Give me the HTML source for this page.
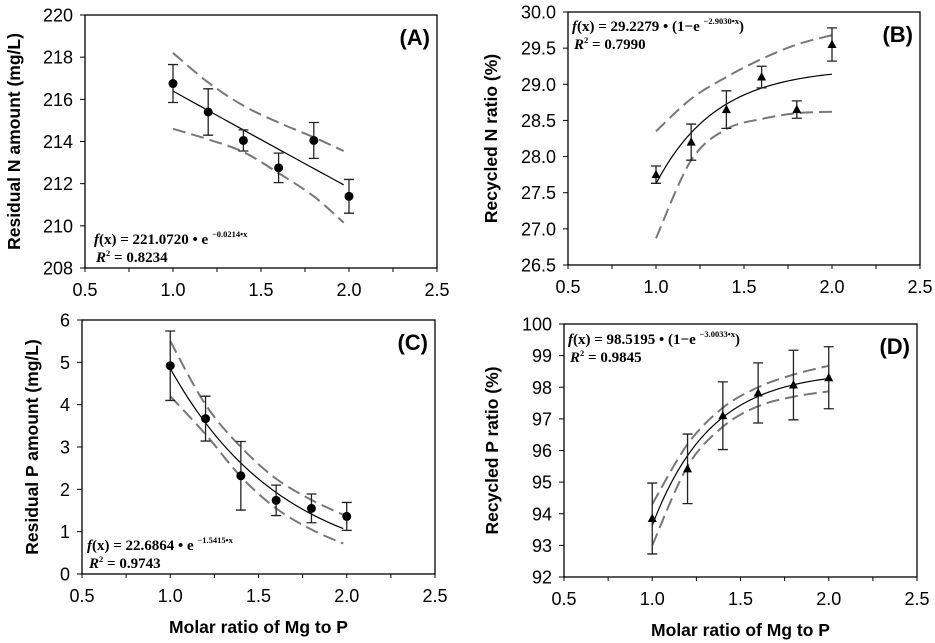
<!DOCTYPE html>
<html><head><meta charset="utf-8"><style>
html,body{margin:0;padding:0;background:#fff;}
svg{display:block;font-family:"Liberation Sans",Arial,sans-serif;}
.eq{font-family:"Liberation Serif",serif;font-weight:bold;}
</style></head><body>
<svg id="fig" width="935" height="643" viewBox="0 0 935 643" xmlns="http://www.w3.org/2000/svg"></svg>
<script>
// shared x data
const xVals = [1.0, 1.2, 1.4, 1.6, 1.8, 2.0];
const xTicks = [0.5, 1.0, 1.5, 2.0, 2.5];
const xTickLabels = ["0.5", "1.0", "1.5", "2.0", "2.5"];

// Panel A
const aMeans = [216.75, 215.4, 214.05, 212.75, 214.05, 211.4];
const aErr = [0.9, 1.1, 0.5, 0.7, 0.85, 0.8];
const aUpper = [218.2, 216.8, 215.7, 214.9, 214.2, 213.55];
const aLower = [214.6, 214.1, 213.5, 212.5, 211.4, 210.15];
const aTicks = [208, 210, 212, 214, 216, 218, 220];
// Panel B
const bMeans = [27.75, 28.2, 28.65, 29.1, 28.65, 29.55];
const bErr = [0.12, 0.25, 0.26, 0.15, 0.12, 0.23];
const bUpper = [28.35, 28.8, 29.1, 29.35, 29.55, 29.68];
const bLower = [26.87, 27.95, 28.38, 28.52, 28.6, 28.62];
const bTicks = [26.5, 27.0, 27.5, 28.0, 28.5, 29.0, 29.5, 30.0];
// Panel C
const cMeans = [4.92, 3.67, 2.32, 1.74, 1.55, 1.36];
const cErr = [0.82, 0.53, 0.81, 0.36, 0.34, 0.33];
const cUpper = [5.5, 4.0, 3.0, 2.25, 1.75, 1.4];
const cLower = [4.2, 3.3, 2.3, 1.55, 1.05, 0.72];
const cTicks = [0, 1, 2, 3, 4, 5, 6];
// Panel D
const dMeans = [93.85, 95.42, 97.1, 97.82, 98.07, 98.3];
const dErr = [1.12, 1.1, 1.07, 0.95, 1.1, 0.98];
const dUpper = [94.3, 96.2, 97.35, 98.0, 98.4, 98.68];
const dLower = [93.0, 95.5, 96.75, 97.4, 97.7, 97.87];
const dTicks = [92, 93, 94, 95, 96, 97, 98, 99, 100];

const NS = "http://www.w3.org/2000/svg";
const svg = document.getElementById("fig");
function mk(tag, attrs, parent) {
  const e = document.createElementNS(NS, tag);
  for (const k in attrs) e.setAttribute(k, attrs[k]);
  (parent || svg).appendChild(e);
  return e;
}
function smoothPath(pts) {
  let d = "M" + pts[0][0] + "," + pts[0][1];
  for (let i = 0; i < pts.length - 1; i++) {
    const p0 = pts[Math.max(0, i - 1)], p1 = pts[i], p2 = pts[i + 1], p3 = pts[Math.min(pts.length - 1, i + 2)];
    const c1x = p1[0] + (p2[0] - p0[0]) / 6, c1y = p1[1] + (p2[1] - p0[1]) / 6;
    const c2x = p2[0] - (p3[0] - p1[0]) / 6, c2y = p2[1] - (p3[1] - p1[1]) / 6;
    d += " C" + c1x + "," + c1y + " " + c2x + "," + c2y + " " + p2[0] + "," + p2[1];
  }
  return d;
}

function panel(cfg) {
  const g = mk("g", {});
  
  
  const {x0, x1, y0, y1, ymin, ymax} = cfg;
  const sx = v => x0 + (v - 0.5) / 2 * (x1 - x0);
  const sy = v => y1 - (v - ymin) / (ymax - ymin) * (y1 - y0);
  const fr = mk("rect", {x: x0, y: y0, width: x1 - x0, height: y1 - y0, fill: "none", stroke: "#000", "stroke-width": 1.3}, g);
  
  
  for (let v = 0.5; v <= 2.5001; v += 0.25) {
    mk("line", {x1: sx(v), x2: sx(v), y1: y1, y2: y1 + 4, stroke: "#000", "stroke-width": 1}, g);
  }
  xTicks.forEach((v, i) => {
    const t = mk("text", {x: sx(v), y: y1 + 28, "text-anchor": "middle", "font-size": 18}, g);
    t.textContent = xTickLabels[i];
    
    
  });
  cfg.ticks.forEach(v => {
    mk("line", {x1: x0 - 5, x2: x0, y1: sy(v), y2: sy(v), stroke: "#000", "stroke-width": 1}, g);
    const t = mk("text", {x: x0 - 12, y: sy(v) + 6.5, "text-anchor": "end", "font-size": 18}, g);
    t.textContent = v.toFixed(cfg.dec);
    
    
  });
  const yt = mk("text", {x: 0, y: 0, "text-anchor": "middle", "font-size": 17.5, "font-weight": "bold", transform: "translate(" + cfg.ytx + "," + ((y0 + y1) / 2) + ") rotate(-90)"}, g);
  yt.textContent = cfg.ytitle;
  
  
  if (cfg.xtitle) {
    const xt = mk("text", {x: (x0 + x1) / 2, y: y1 + 59, "text-anchor": "middle", "font-size": 17.5, "font-weight": "bold"}, g);
    xt.textContent = "Molar ratio of Mg to P";
    
    
  }
  const pl = mk("text", {x: x1 - 7, y: y0 + 30, "text-anchor": "end", "font-size": 22, "font-weight": "bold"}, g);
  pl.textContent = cfg.label;
  
  
  const xEnd = cfg.bandEnd;
  [cfg.upper, cfg.lower].forEach((arr, k) => {
    const pts = arr.map((v, i) => [sx(i === arr.length - 1 ? xEnd : xVals[i]), sy(v)]);
    const p = mk("path", {d: smoothPath(pts), fill: "none", stroke: "#777", "stroke-width": 2, "stroke-dasharray": "13,6"}, g);
    
    
  });
  const fp = [];
  for (let i = 0; i <= 50; i++) { const xv = 1 + i / 50 * (xEnd - 1); fp.push((i ? "L" : "M") + sx(xv) + "," + sy(cfg.fit(xv))); }
  const fl = mk("path", {d: fp.join(" "), fill: "none", stroke: "#000", "stroke-width": 1.2}, g);
  
  
  xVals.forEach((xv, i) => {
    const cx = sx(xv), m = cfg.means[i], e = cfg.err[i];
    const eb = mk("path", {d: "M" + cx + "," + sy(m + e) + "V" + sy(m - e) + "M" + (cx - 5) + "," + sy(m + e) + "H" + (cx + 5) + "M" + (cx - 5) + "," + sy(m - e) + "H" + (cx + 5), stroke: "#222", "stroke-width": 1.3, fill: "none"}, g);
    
    
    let mkp;
    if (cfg.marker === "circle") mkp = mk("circle", {cx: cx, cy: sy(m), r: 4.5, fill: "#000"}, g);
    else { const cy = sy(m); mkp = mk("path", {d: "M" + cx + "," + (cy - 5) + "L" + (cx + 4.5) + "," + (cy + 3.5) + "L" + (cx - 4.5) + "," + (cy + 3.5) + "Z", fill: "#000"}, g); }
    
    
  });
  const eq = mk("text", {x: cfg.eqx, y: cfg.eqy, "font-size": 15, class: "eq"}, g);
  eq.innerHTML = '<tspan font-style="italic">f</tspan>(x) = ' + cfg.eqA + ' &#8226; ' + cfg.eqB + '<tspan font-size="8.5" dy="-7">' + cfg.eqExp + '</tspan>' + (cfg.paren ? '<tspan dy="7">)</tspan>' : '');
  
  
  const r2 = mk("text", {x: cfg.eqx + 2, y: cfg.eqy + 18, "font-size": 15, class: "eq"}, g);
  r2.innerHTML = '<tspan font-style="italic">R</tspan><tspan font-size="8.5" dy="-6">2</tspan><tspan dy="6"> = ' + cfg.r2 + '</tspan>';
  
  
}

panel({name: "panel-a", x0: 85, x1: 437, y0: 15, y1: 268, ymin: 208, ymax: 220, ticks: aTicks, dec: 0,
  ytitle: "Residual N amount (mg/L)", ytx: 20, label: "(A)", means: aMeans, err: aErr, upper: aUpper, lower: aLower,
  bandEnd: 1.97, fit: x => 221.072 * Math.exp(-0.0214 * x), marker: "circle", eqx: 94, eqy: 244,
  eqA: "221.0720", eqB: "e ", eqExp: "&#8722;0.0214&#8226;x", paren: false, r2: "0.8234"});
panel({name: "panel-b", x0: 568, x1: 920, y0: 12, y1: 265, ymin: 26.5, ymax: 30, ticks: bTicks, dec: 1,
  ytitle: "Recycled N ratio (%)", ytx: 497, label: "(B)", means: bMeans, err: bErr, upper: bUpper, lower: bLower,
  bandEnd: 2.0, fit: x => 29.2279 * (1 - Math.exp(-2.903 * x)), marker: "tri", eqx: 572, eqy: 31,
  eqA: "29.2279", eqB: "(1&#8722;e ", eqExp: "&#8722;2.9030&#8226;x", paren: true, r2: "0.7990"});
panel({name: "panel-c", x0: 82, x1: 435, y0: 320, y1: 574, ymin: 0, ymax: 6, ticks: cTicks, dec: 0,
  ytitle: "Residual P amount (mg/L)", ytx: 38, label: "(C)", means: cMeans, err: cErr, upper: cUpper, lower: cLower,
  bandEnd: 1.98, fit: x => 22.6864 * Math.exp(-1.5415 * x), marker: "circle", eqx: 87, eqy: 550,
  eqA: "22.6864", eqB: "e ", eqExp: "&#8722;1.5415&#8226;x", paren: false, r2: "0.9743", xtitle: true});
panel({name: "panel-d", x0: 564, x1: 917, y0: 324, y1: 577, ymin: 92, ymax: 100, ticks: dTicks, dec: 0,
  ytitle: "Recycled P ratio (%)", ytx: 498, label: "(D)", means: dMeans, err: dErr, upper: dUpper, lower: dLower,
  bandEnd: 2.0, fit: x => 98.5195 * (1 - Math.exp(-3.0033 * x)), marker: "tri", eqx: 568, eqy: 344,
  eqA: "98.5195", eqB: "(1&#8722;e ", eqExp: "&#8722;3.0033&#8226;x", paren: true, r2: "0.9845", xtitle: true});
</script>
</body></html>
